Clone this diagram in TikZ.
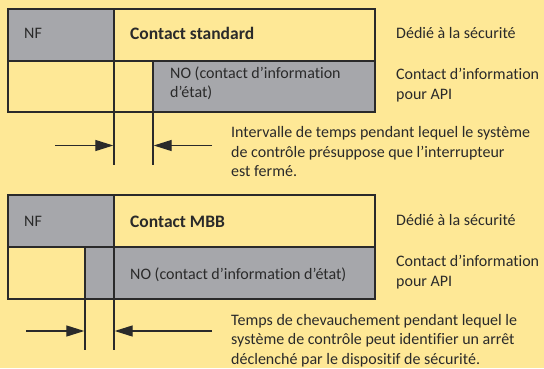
\documentclass[tikz,border=0pt]{standalone}
\usepackage{fontspec}
\setmainfont{Carlito}[RawFeature={-liga}]
\usetikzlibrary{arrows.meta}
\definecolor{bgyellow}{HTML}{FEE896}
\definecolor{cellgrey}{HTML}{A6A7AB}
\definecolor{linec}{HTML}{2A2A2A}
\tikzset{
  frame/.style={draw=linec, line width=1.4pt},
  greycell/.style={fill=cellgrey},
  lbl/.style={anchor=base west, inner sep=0pt, font=\fontsize{16}{19.4}\selectfont, text=linec, align=left},
  title/.style={lbl, font=\fontsize{17.5}{20}\selectfont\bfseries},
  tick/.style={draw=linec, line width=1.4pt},
  dimarrow/.style={draw=linec, line width=1.3pt, -{Triangle[length=18pt,width=11pt]}}
}
\begin{document}
\begin{tikzpicture}[x=1pt,y=-1pt]
\fill[bgyellow] (0,0) rectangle (544,368);
\useasboundingbox (0,0) rectangle (544,368);
% ---------- top block: contact standard ----------
\fill[greycell] (8,9) rectangle (114,61);
\fill[greycell] (153,61) rectangle (375,112);
\draw[frame] (8,9) rectangle (375,112);
\draw[frame] (8,61) -- (375,61);
\draw[frame] (114,9) -- (114,61);
\coordinate (t1a) at (114,61);
\coordinate (t1b) at (114,165);
\coordinate (t2a) at (153,61);
\coordinate (t2b) at (153,165);
\draw[tick] (t1a) -- (t1b);
\draw[tick] (t2a) -- (t2b);
\coordinate (a1s) at (55,145.5);
\coordinate (a1e) at (113.3,145.5);
\coordinate (a2s) at (212,145.5);
\coordinate (a2e) at (153.7,145.5);
\draw[dimarrow] (a1s) -- (a1e);
\draw[dimarrow] (a2s) -- (a2e);
% multi-line nodes: base anchor = baseline of the last line
\node[lbl] (nf1) at (24,38.5) {NF};
\node[title] (cs) at (130,39.3) {Contact standard};
\node[lbl] (no1) at (170,97.5) {NO (contact d’information\\d’état)};
\node[lbl] (ded1) at (396,38.5) {Dédié à la sécurité};
\node[lbl] (ci1) at (396,99.2) {Contact d’information\\pour API};
\node[lbl] (int1) at (231,176.7) {Intervalle de temps pendant lequel le système\\de contrôle présuppose que l’interrupteur\\est fermé.};
% ---------- bottom block: contact MBB ----------
\fill[greycell] (8,195) rectangle (114,247);
\fill[greycell] (85,247) rectangle (375,299);
\draw[frame] (8,195) rectangle (375,299);
\draw[frame] (8,247) -- (375,247);
\draw[frame] (114,195) -- (114,247);
\coordinate (b1a) at (85,247);
\coordinate (b1b) at (85,350);
\coordinate (b2a) at (114,247);
\coordinate (b2b) at (114,350);
\draw[tick] (b1a) -- (b1b);
\draw[tick] (b2a) -- (b2b);
\coordinate (c1s) at (26,331);
\coordinate (c1e) at (84.3,331);
\coordinate (c2s) at (212,331);
\coordinate (c2e) at (114.7,331);
\draw[dimarrow] (c1s) -- (c1e);
\draw[dimarrow] (c2s) -- (c2e);
\node[lbl] (nf2) at (24,226) {NF};
\node[title] (mbb) at (130,227) {Contact MBB};
\node[lbl] (no2) at (130,279) {NO (contact d’information d’état)};
\node[lbl] (ded2) at (396,225.5) {Dédié à la sécurité};
\node[lbl] (ci2) at (396,286.2) {Contact d’information\\pour API};
\node[lbl] (ovl) at (231,364.2) {Temps de chevauchement pendant lequel le\\système de contrôle peut identifier un arrêt\\déclenché par le dispositif de sécurité.};
\end{tikzpicture}
\end{document}
